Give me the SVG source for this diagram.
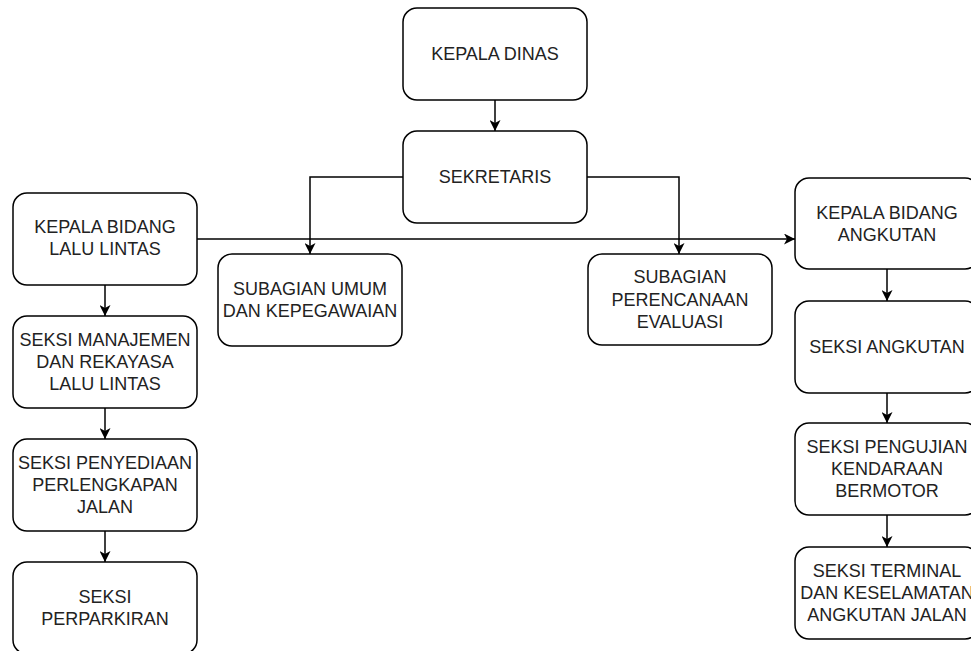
<svg xmlns="http://www.w3.org/2000/svg" width="971" height="651" viewBox="0 0 971 651">
<defs>
<marker id="arr" markerUnits="userSpaceOnUse" viewBox="0 0 11 11" refX="11" refY="5.5" markerWidth="11" markerHeight="11" orient="auto">
<path d="M0,0 L11,5.5 L0,11 L3,5.5 Z" fill="#000"/>
</marker>
<style>
.box{fill:#fff;stroke:#000;stroke-width:1.5}
.t{font-family:"Liberation Sans",Arial,sans-serif;font-size:18px;fill:#222;text-anchor:middle;dominant-baseline:central}
.c{fill:none;stroke:#000;stroke-width:1.5}
</style>
</defs>
<rect width="971" height="651" fill="#fff"/>
<g id="connectors">
<path class="c" d="M495,100 L495,131" marker-end="url(#arr)"/>
<path class="c" d="M403,177 L310,177 L310,254" marker-end="url(#arr)"/>
<path class="c" d="M587,177 L679,177 L679,254" marker-end="url(#arr)"/>
<path class="c" d="M197,239 L795,239" marker-end="url(#arr)"/>
<path class="c" d="M105,285 L105,316" marker-end="url(#arr)"/>
<path class="c" d="M105,408 L105,439" marker-end="url(#arr)"/>
<path class="c" d="M105,531 L105,562" marker-end="url(#arr)"/>
<path class="c" d="M887,269 L887,301" marker-end="url(#arr)"/>
<path class="c" d="M887,393 L887,423" marker-end="url(#arr)"/>
<path class="c" d="M887,515 L887,547" marker-end="url(#arr)"/>
</g>
<g id="kepala_dinas"><rect class="box" x="403" y="8" width="184" height="92" rx="14"/><text class="t" x="495" y="54">KEPALA DINAS</text></g>
<g id="sekretaris"><rect class="box" x="403" y="131" width="184" height="92" rx="14"/><text class="t" x="495" y="177">SEKRETARIS</text></g>
<g id="kabid_lalu_lintas"><rect class="box" x="13" y="193" width="184" height="92" rx="14"/><text class="t" x="105" y="227">KEPALA BIDANG</text><text class="t" x="105" y="249">LALU LINTAS</text></g>
<g id="subagian_umum"><rect class="box" x="218" y="254" width="184" height="92" rx="14"/><text class="t" x="310" y="289">SUBAGIAN UMUM</text><text class="t" x="310" y="311">DAN KEPEGAWAIAN</text></g>
<g id="subagian_perencanaan"><rect class="box" x="588" y="254" width="184" height="91" rx="14"/><text class="t" x="680" y="277">SUBAGIAN</text><text class="t" x="680" y="300">PERENCANAAN</text><text class="t" x="680" y="322">EVALUASI</text></g>
<g id="kabid_angkutan"><rect class="box" x="795" y="178" width="184" height="91" rx="14"/><text class="t" x="887" y="213">KEPALA BIDANG</text><text class="t" x="887" y="235">ANGKUTAN</text></g>
<g id="seksi_angkutan"><rect class="box" x="795" y="301" width="184" height="92" rx="14"/><text class="t" x="887" y="347">SEKSI ANGKUTAN</text></g>
<g id="seksi_pengujian"><rect class="box" x="795" y="423" width="184" height="92" rx="14"/><text class="t" x="887" y="447">SEKSI PENGUJIAN</text><text class="t" x="887" y="469">KENDARAAN</text><text class="t" x="887" y="491">BERMOTOR</text></g>
<g id="seksi_terminal"><rect class="box" x="795" y="547" width="184" height="92" rx="14"/><text class="t" x="887" y="571">SEKSI TERMINAL</text><text class="t" x="887" y="593">DAN KESELAMATAN</text><text class="t" x="887" y="615">ANGKUTAN JALAN</text></g>
<g id="seksi_manajemen"><rect class="box" x="13" y="316" width="184" height="92" rx="14"/><text class="t" x="105" y="340">SEKSI MANAJEMEN</text><text class="t" x="105" y="362">DAN REKAYASA</text><text class="t" x="105" y="384">LALU LINTAS</text></g>
<g id="seksi_penyediaan"><rect class="box" x="13" y="439" width="184" height="92" rx="14"/><text class="t" x="105" y="463">SEKSI PENYEDIAAN</text><text class="t" x="105" y="485">PERLENGKAPAN</text><text class="t" x="105" y="507">JALAN</text></g>
<g id="seksi_perparkiran"><rect class="box" x="13" y="562" width="184" height="92" rx="14"/><text class="t" x="105" y="597">SEKSI</text><text class="t" x="105" y="619">PERPARKIRAN</text></g>
</svg>
